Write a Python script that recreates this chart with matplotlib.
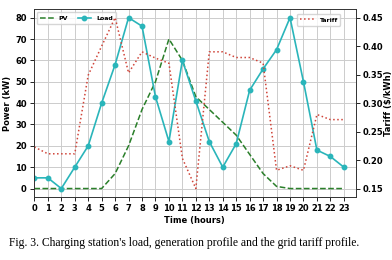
import numpy as np
import matplotlib
matplotlib.use("Agg")
import matplotlib.pyplot as plt

hours = list(range(24))
load = [5, 5, 0, 10, 20, 40, 58, 80, 76, 43, 22, 60, 41, 22, 10, 21, 46, 56, 65, 80, 50, 18, 15, 10]
pv = [0, 0, 0, 0, 0, 0, 7, 20, 37, 50, 70, 60, 43, 37, 31, 25, 16, 7, 1, 0, 0, 0, 0, 0]
tariff = [0.223, 0.211, 0.211, 0.211, 0.349, 0.40, 0.45, 0.353, 0.39, 0.379, 0.37, 0.203,
          0.15, 0.39, 0.39, 0.38, 0.38, 0.37, 0.182, 0.19, 0.182, 0.28, 0.271, 0.271]

plt.rcParams['font.family'] = 'DejaVu Sans'
plt.rcParams['font.weight'] = 'bold'

fig = plt.figure(figsize=(3.92, 2.6), dpi=100)
ax = fig.add_axes([0.086, 0.242, 0.822, 0.723])
ax2 = ax.twinx()

ax.plot(hours, pv, '--', color='#2a7f2a', lw=1.1, label='PV')
ax.plot(hours, load, '-o', color='#2ab5ba', lw=1.2, ms=3.2, label='Load')
ax2.plot(hours, tariff, ':', color='#d0453a', lw=1.1, label='Tariff')

ax.set_xlim(-0.05, 23.9)
ax.set_xticks(hours)
ax.set_yticks(range(0, 81, 10))
ax2.set_yticks([0.15, 0.20, 0.25, 0.30, 0.35, 0.40, 0.45])
ax.grid(True, color='#cccccc', lw=0.7)
ax.set_axisbelow(True)

for a in (ax, ax2):
    a.tick_params(labelsize=6, length=3, width=0.6, pad=2)
    for s in a.spines.values():
        s.set_linewidth(0.6)
        s.set_color('#333333')
    for lab in a.get_xticklabels() + a.get_yticklabels():
        lab.set_fontweight('bold')

ax.set_xlabel('Time (hours)', fontsize=6, fontweight='bold', labelpad=2)
ax.set_ylabel('Power (kW)', fontsize=6, fontweight='bold', labelpad=2)
ax2.set_ylabel('Tariff ($/kWh)', fontsize=6, fontweight='bold', labelpad=0.5)

ax.legend(loc='upper left', ncol=2, fontsize=4.5, handlelength=2.2, borderpad=0.5,
          columnspacing=1.5, fancybox=True)
ax2.legend(loc='upper right', fontsize=4.5, handlelength=2.2, borderpad=0.5,
           bbox_to_anchor=(0.96, 0.99))

fig.text(0.47, 0.065, "Fig. 3. Charging station's load, generation profile and the grid tariff profile.",
         ha='center', va='center', fontsize=8.4, family='Liberation Serif', fontweight='normal')

fig.savefig('out.png', dpi=100)
